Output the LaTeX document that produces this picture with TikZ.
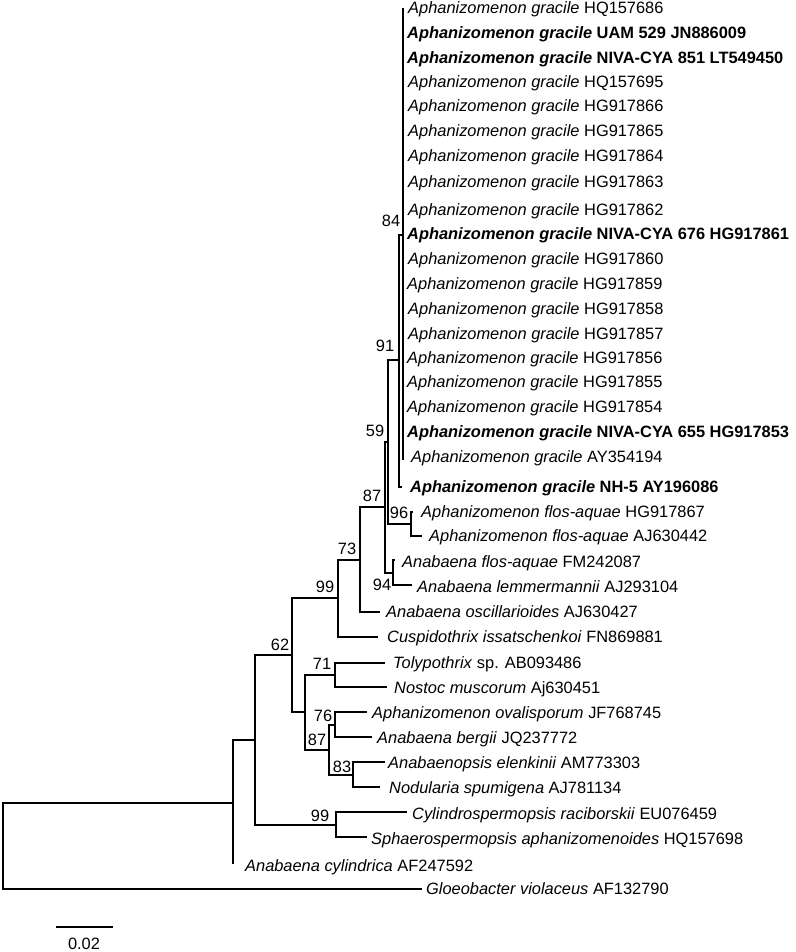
\documentclass[tikz,border=0pt]{standalone}
\usepackage{fontspec}
\setmainfont{Liberation Sans}
\begin{document}
\begin{tikzpicture}[x=1pt,y=-1pt,
  leaf/.style={anchor=base west, inner sep=0pt, font=\fontsize{16.4}{19}\selectfont},
  bs/.style={inner sep=0pt, font=\fontsize{16.4}{19}\selectfont},
  branch/.style={line width=1.7pt}]
\useasboundingbox (0,0) rectangle (795,952);
% internal nodes
\coordinate (r) at (3,846);
\coordinate (ing) at (233,803);
\coordinate (X) at (255,740);
\coordinate (n62) at (292,655);
\coordinate (n99a) at (338,598);
\coordinate (n73) at (360,560);
\coordinate (n87a) at (385,507);
\coordinate (n59) at (388,442);
\coordinate (n91) at (399,360);
\coordinate (n84) at (403,235);
\coordinate (n96) at (411,524);
\coordinate (n94) at (393,573);
\coordinate (m) at (305,712);
\coordinate (n71) at (335,675);
\coordinate (n87b) at (329,750);
\coordinate (n76) at (335,725);
\coordinate (n83) at (353,775);
\coordinate (n99b) at (336,825);
% tips
\coordinate (t1) at (403,8);
\coordinate (t19) at (403,460);
\coordinate (t20) at (402,487);
\coordinate (t21) at (413,512);
\coordinate (t22) at (422,536);
\coordinate (t23) at (395,560);
\coordinate (t24) at (412,585);
\coordinate (t25) at (380,612);
\coordinate (t26) at (378,637);
\coordinate (t27) at (385,663);
\coordinate (t28) at (387,687);
\coordinate (t29) at (367,712);
\coordinate (t30) at (372,737);
\coordinate (t31) at (385,762);
\coordinate (t32) at (380,787);
\coordinate (t33) at (407,812);
\coordinate (t34) at (367,837);
\coordinate (t35) at (233,864);
\coordinate (t36) at (422,889);
% branches
\draw[branch] (r) |- (ing);
\draw[branch] (r) |- (t36);
\draw[branch] (ing) |- (X);
\draw[branch] (ing) |- (t35);
\draw[branch] (X) |- (n62);
\draw[branch] (X) |- (n99b);
\draw[branch] (n99b) |- (t33);
\draw[branch] (n99b) |- (t34);
\draw[branch] (n62) |- (n99a);
\draw[branch] (n62) |- (m);
\draw[branch] (m) |- (n71);
\draw[branch] (m) |- (n87b);
\draw[branch] (n71) |- (t27);
\draw[branch] (n71) |- (t28);
\draw[branch] (n87b) |- (n76);
\draw[branch] (n87b) |- (n83);
\draw[branch] (n76) |- (t29);
\draw[branch] (n76) |- (t30);
\draw[branch] (n83) |- (t31);
\draw[branch] (n83) |- (t32);
\draw[branch] (n99a) |- (n73);
\draw[branch] (n99a) |- (t26);
\draw[branch] (n73) |- (n87a);
\draw[branch] (n73) |- (t25);
\draw[branch] (n87a) |- (n59);
\draw[branch] (n87a) |- (n94);
\draw[branch] (n94) |- (t23);
\draw[branch] (n94) |- (t24);
\draw[branch] (n59) |- (n91);
\draw[branch] (n59) |- (n96);
\draw[branch] (n96) |- (t21);
\draw[branch] (n96) |- (t22);
\draw[branch] (n91) |- (n84);
\draw[branch] (n91) |- (t20);
\draw[branch] (t1) -- (t19);
% bootstrap values
\node[bs] (b84) at (391,221) {84};
\node[bs] (b91) at (385,346) {91};
\node[bs] (b59) at (375,431) {59};
\node[bs] (b87a) at (372,496) {87};
\node[bs] (b96) at (399,513) {96};
\node[bs] (b94) at (382,585) {94};
\node[bs] (b73) at (347,549) {73};
\node[bs] (b99a) at (325,587) {99};
\node[bs] (b62) at (280,645) {62};
\node[bs] (b71) at (322,664) {71};
\node[bs] (b76) at (323,716) {76};
\node[bs] (b87b) at (317,740) {87};
\node[bs] (b83) at (342,767) {83};
\node[bs] (b99b) at (320,816) {99};
% leaves
\node[leaf] (l1) at (408,13.5) {\textit{Aphanizomenon gracile} HQ157686};
\node[leaf] (l2) at (407,38.5) {\textbf{\textit{Aphanizomenon gracile} UAM 529 JN886009}};
\node[leaf] (l3) at (407,63.5) {\textbf{\textit{Aphanizomenon gracile} NIVA-CYA 851 LT549450}};
\node[leaf] (l4) at (408,87.5) {\textit{Aphanizomenon gracile} HQ157695};
\node[leaf] (l5) at (408,111.5) {\textit{Aphanizomenon gracile} HG917866};
\node[leaf] (l6) at (408,136.5) {\textit{Aphanizomenon gracile} HG917865};
\node[leaf] (l7) at (408,161.5) {\textit{Aphanizomenon gracile} HG917864};
\node[leaf] (l8) at (408,187.5) {\textit{Aphanizomenon gracile} HG917863};
\node[leaf] (l9) at (408,215.5) {\textit{Aphanizomenon gracile} HG917862};
\node[leaf] (l10) at (407,239.5) {\textbf{\textit{Aphanizomenon gracile} NIVA-CYA 676 HG917861}};
\node[leaf] (l11) at (408,264.5) {\textit{Aphanizomenon gracile} HG917860};
\node[leaf] (l12) at (407,289.5) {\textit{Aphanizomenon gracile} HG917859};
\node[leaf] (l13) at (408,314.5) {\textit{Aphanizomenon gracile} HG917858};
\node[leaf] (l14) at (408,339.5) {\textit{Aphanizomenon gracile} HG917857};
\node[leaf] (l15) at (407,363.5) {\textit{Aphanizomenon gracile} HG917856};
\node[leaf] (l16) at (407,387.5) {\textit{Aphanizomenon gracile} HG917855};
\node[leaf] (l17) at (407,412.5) {\textit{Aphanizomenon gracile} HG917854};
\node[leaf] (l18) at (407,437.5) {\textbf{\textit{Aphanizomenon gracile} NIVA-CYA 655 HG917853}};
\node[leaf] (l19) at (411,462.5) {\textit{Aphanizomenon gracile} AY354194};
\node[leaf] (l20) at (410,492) {\textbf{\textit{Aphanizomenon gracile} NH-5 AY196086}};
\node[leaf] (l21) at (421,517) {\textit{Aphanizomenon flos-aquae} HG917867};
\node[leaf] (l22) at (429,541.5) {\textit{Aphanizomenon flos-aquae} AJ630442};
\node[leaf] (l23) at (402,567) {\textit{Anabaena flos-aquae} FM242087};
\node[leaf] (l24) at (417,592) {\textit{Anabaena lemmermannii} AJ293104};
\node[leaf] (l25) at (386,617.5) {\textit{Anabaena oscillarioides} AJ630427};
\node[leaf] (l26) at (387,642.5) {\textit{Cuspidothrix issatschenkoi} FN869881};
\node[leaf] (l27) at (393,668.5) {\textit{Tolypothrix} sp. AB093486};
\node[leaf] (l28) at (394,693) {\textit{Nostoc muscorum} Aj630451};
\node[leaf] (l29) at (372,718.5) {\textit{Aphanizomenon ovalisporum} JF768745};
\node[leaf] (l30) at (377,743) {\textit{Anabaena bergii} JQ237772};
\node[leaf] (l31) at (388,768.5) {\textit{Anabaenopsis elenkinii} AM773303};
\node[leaf] (l32) at (389,793) {\textit{Nodularia spumigena} AJ781134};
\node[leaf] (l33) at (412,819.5) {\textit{Cylindrospermopsis raciborskii} EU076459};
\node[leaf] (l34) at (371,844) {\textit{Sphaerospermopsis aphanizomenoides} HQ157698};
\node[leaf] (l35) at (245,871.5) {\textit{Anabaena cylindrica} AF247592};
\node[leaf] (l36) at (426,894.5) {\textit{Gloeobacter violaceus} AF132790};
% scale bar
\coordinate (sb1) at (56,927);
\coordinate (sb2) at (113,927);
\draw[branch] (sb1) -- (sb2);
\node[bs] (sbl) at (84,944) {0.02};
\end{tikzpicture}
\end{document}
